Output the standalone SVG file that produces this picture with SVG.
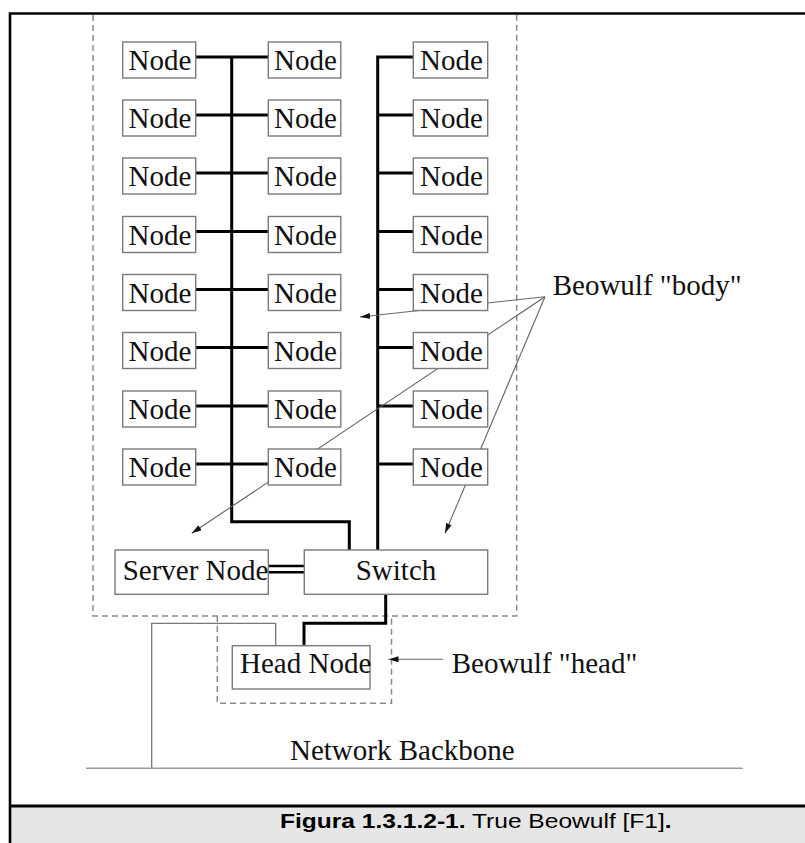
<svg xmlns="http://www.w3.org/2000/svg" width="805" height="843" viewBox="0 0 805 843">
<style>
.box{fill:#fff;stroke:#7a7a7a;stroke-width:1.4}
.t{font-family:"Liberation Serif","Times New Roman",serif;font-size:29px;fill:#111}
.bus{fill:none;stroke:#000;stroke-width:3}
.thin{fill:none;stroke:#777;stroke-width:1.3}
.dash{fill:none;stroke:#8a8a8a;stroke-width:1.5;stroke-dasharray:6 4}
.arr{fill:none;stroke:#666;stroke-width:1.1;marker-end:url(#ah)}
.cap{font-family:"Liberation Sans",Arial,sans-serif;font-size:21px;fill:#000}
</style>
<defs>
<marker id="ah" viewBox="0 0 10 6" refX="10" refY="3" markerWidth="10" markerHeight="6" markerUnits="userSpaceOnUse" orient="auto">
<path d="M0,0 L10,3 L0,6 Z" fill="#111"/>
</marker>
</defs>
<rect x="0" y="0" width="805" height="843" fill="#fff"/>
<rect x="10" y="806" width="800" height="40" fill="#e6e6e6"/>
<path d="M10,845 V13.5 H810" fill="none" stroke="#000" stroke-width="2.6"/>
<line x1="10" y1="806" x2="810" y2="806" stroke="#000" stroke-width="3"/>
<g id="frames">
<path class="dash" d="M93,15 V616 H516.7 V15"/>
<path class="dash" d="M217.3,616 V703.3 H391.5 V616"/>
</g>
<g id="connectors">
<path class="bus" d="M231.7,57 V521.7 H349.3 V550"/>
<path class="bus" d="M413.3,57 H377.7 V550"/>
<path class="bus" d="M195.7,57 H268.3 M195.7,115 H268.3 M195.7,173 H268.3 M195.7,231.5 H268.3 M195.7,289.5 H268.3 M195.7,347.5 H268.3 M195.7,406 H268.3 M195.7,464 H268.3"/>
<path class="bus" d="M377.7,115 H413.3 M377.7,173 H413.3 M377.7,231.5 H413.3 M377.7,289.5 H413.3 M377.7,347.5 H413.3 M377.7,406 H413.3 M377.7,464 H413.3"/>
<path class="bus" d="M385.7,594.3 V623.3 H304 V645.7"/>
<path d="M268.3,566 H304.3 M268.3,572.3 H304.3" fill="none" stroke="#000" stroke-width="2.4"/>
<path class="thin" d="M151.7,768 V623.3 H275.7 V645.7"/>
<line x1="86" y1="768.3" x2="742.7" y2="768.3" stroke="#999" stroke-width="1.4"/>
<line class="arr" x1="545" y1="296.7" x2="360" y2="317"/>
<line class="arr" x1="545" y1="296.7" x2="191.7" y2="533.3"/>
<line class="arr" x1="545" y1="296.7" x2="445" y2="533.3"/>
<line class="arr" x1="443" y1="659.3" x2="388.5" y2="659.3"/>
</g>
<g id="n-1-1"><rect class="box" x="122.7" y="42" width="73" height="36"/><text class="t" x="160" y="70" text-anchor="middle">Node</text></g>
<g id="n-1-2"><rect class="box" x="122.7" y="100" width="73" height="36"/><text class="t" x="160" y="128" text-anchor="middle">Node</text></g>
<g id="n-1-3"><rect class="box" x="122.7" y="158" width="73" height="36"/><text class="t" x="160" y="186" text-anchor="middle">Node</text></g>
<g id="n-1-4"><rect class="box" x="122.7" y="216.5" width="73" height="36"/><text class="t" x="160" y="244.5" text-anchor="middle">Node</text></g>
<g id="n-1-5"><rect class="box" x="122.7" y="274.5" width="73" height="36"/><text class="t" x="160" y="302.5" text-anchor="middle">Node</text></g>
<g id="n-1-6"><rect class="box" x="122.7" y="332.5" width="73" height="36"/><text class="t" x="160" y="360.5" text-anchor="middle">Node</text></g>
<g id="n-1-7"><rect class="box" x="122.7" y="391" width="73" height="36"/><text class="t" x="160" y="419" text-anchor="middle">Node</text></g>
<g id="n-1-8"><rect class="box" x="122.7" y="449" width="73" height="36"/><text class="t" x="160" y="477" text-anchor="middle">Node</text></g>
<g id="n-2-1"><rect class="box" x="268.3" y="42" width="72.5" height="36"/><text class="t" x="305.5" y="70" text-anchor="middle">Node</text></g>
<g id="n-2-2"><rect class="box" x="268.3" y="100" width="72.5" height="36"/><text class="t" x="305.5" y="128" text-anchor="middle">Node</text></g>
<g id="n-2-3"><rect class="box" x="268.3" y="158" width="72.5" height="36"/><text class="t" x="305.5" y="186" text-anchor="middle">Node</text></g>
<g id="n-2-4"><rect class="box" x="268.3" y="216.5" width="72.5" height="36"/><text class="t" x="305.5" y="244.5" text-anchor="middle">Node</text></g>
<g id="n-2-5"><rect class="box" x="268.3" y="274.5" width="72.5" height="36"/><text class="t" x="305.5" y="302.5" text-anchor="middle">Node</text></g>
<g id="n-2-6"><rect class="box" x="268.3" y="332.5" width="72.5" height="36"/><text class="t" x="305.5" y="360.5" text-anchor="middle">Node</text></g>
<g id="n-2-7"><rect class="box" x="268.3" y="391" width="72.5" height="36"/><text class="t" x="305.5" y="419" text-anchor="middle">Node</text></g>
<g id="n-2-8"><rect class="box" x="268.3" y="449" width="72.5" height="36"/><text class="t" x="305.5" y="477" text-anchor="middle">Node</text></g>
<g id="n-3-1"><rect class="box" x="413.3" y="42" width="74.4" height="36"/><text class="t" x="451.5" y="70" text-anchor="middle">Node</text></g>
<g id="n-3-2"><rect class="box" x="413.3" y="100" width="74.4" height="36"/><text class="t" x="451.5" y="128" text-anchor="middle">Node</text></g>
<g id="n-3-3"><rect class="box" x="413.3" y="158" width="74.4" height="36"/><text class="t" x="451.5" y="186" text-anchor="middle">Node</text></g>
<g id="n-3-4"><rect class="box" x="413.3" y="216.5" width="74.4" height="36"/><text class="t" x="451.5" y="244.5" text-anchor="middle">Node</text></g>
<g id="n-3-5"><rect class="box" x="413.3" y="274.5" width="74.4" height="36"/><text class="t" x="451.5" y="302.5" text-anchor="middle">Node</text></g>
<g id="n-3-6"><rect class="box" x="413.3" y="332.5" width="74.4" height="36"/><text class="t" x="451.5" y="360.5" text-anchor="middle">Node</text></g>
<g id="n-3-7"><rect class="box" x="413.3" y="391" width="74.4" height="36"/><text class="t" x="451.5" y="419" text-anchor="middle">Node</text></g>
<g id="n-3-8"><rect class="box" x="413.3" y="449" width="74.4" height="36"/><text class="t" x="451.5" y="477" text-anchor="middle">Node</text></g>
<g id="server"><rect class="box" x="115" y="550" width="153.3" height="44.3"/><text class="t" x="122.7" y="580">Server Node</text></g>
<g id="switch"><rect class="box" x="304.3" y="550" width="183.4" height="44.3"/><text class="t" x="396" y="580" text-anchor="middle">Switch</text></g>
<g id="head"><rect class="box" x="232.3" y="645.7" width="137.7" height="43.3"/><text class="t" x="240" y="673.3">Head Node</text></g>
<g id="labels">
<text class="t" x="552.7" y="295">Beowulf "body"</text>
<text class="t" x="451.7" y="673.3">Beowulf "head"</text>
<text class="t" x="290" y="760">Network Backbone</text>
</g>
<g id="caption">
<text class="cap" x="280" y="828.3" textLength="391.7" lengthAdjust="spacingAndGlyphs"><tspan font-weight="bold">Figura 1.3.1.2-1.</tspan> True Beowulf [F1]<tspan font-weight="bold">.</tspan></text>
</g>
</svg>
